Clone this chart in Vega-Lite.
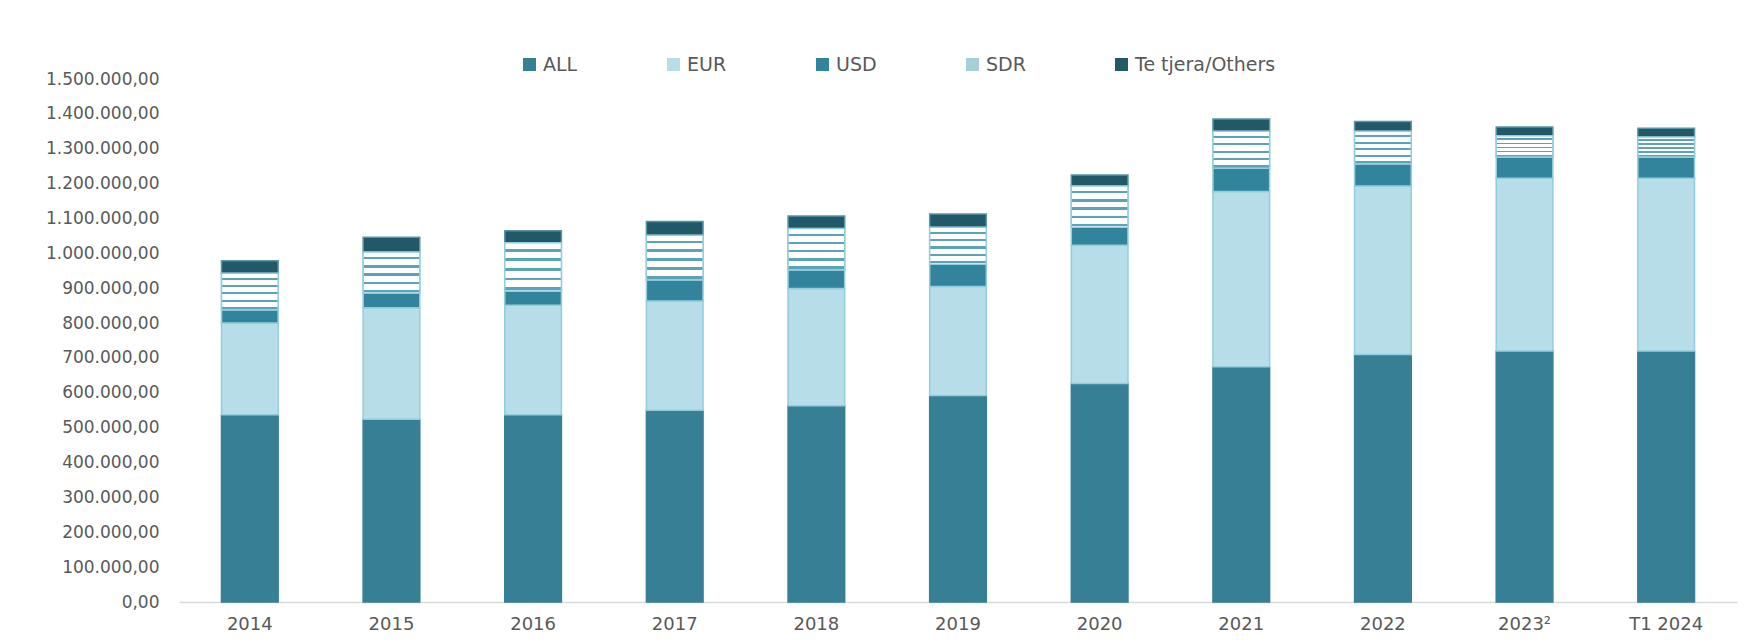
{
  "$schema": "https://vega.github.io/schema/vega-lite/v6.json",
  "width": 1558,
  "height": 523,
  "autosize": {"type": "none"},
  "padding": {"left": 179, "top": 79, "right": 12, "bottom": 40},
  "background": "white",
  "config": {
    "locale": {"number": {"decimal": ",", "thousands": ".", "grouping": [3], "currency": ["", ""]}},
    "view": {"stroke": null},
    "font": "DejaVu Sans"
  },
  "data": {
    "values": [
      {"year": "2014", "currency": "ALL", "value": 537000},
      {"year": "2014", "currency": "EUR", "value": 263000},
      {"year": "2014", "currency": "USD", "value": 38000},
      {"year": "2014", "currency": "SDR", "value": 105000},
      {"year": "2014", "currency": "Te tjera/Others", "value": 36000},
      {"year": "2015", "currency": "ALL", "value": 524000},
      {"year": "2015", "currency": "EUR", "value": 320000},
      {"year": "2015", "currency": "USD", "value": 42000},
      {"year": "2015", "currency": "SDR", "value": 118000},
      {"year": "2015", "currency": "Te tjera/Others", "value": 42000},
      {"year": "2016", "currency": "ALL", "value": 537000},
      {"year": "2016", "currency": "EUR", "value": 314000},
      {"year": "2016", "currency": "USD", "value": 41000},
      {"year": "2016", "currency": "SDR", "value": 138000},
      {"year": "2016", "currency": "Te tjera/Others", "value": 35000},
      {"year": "2017", "currency": "ALL", "value": 550000},
      {"year": "2017", "currency": "EUR", "value": 313000},
      {"year": "2017", "currency": "USD", "value": 61000},
      {"year": "2017", "currency": "SDR", "value": 128000},
      {"year": "2017", "currency": "Te tjera/Others", "value": 39000},
      {"year": "2018", "currency": "ALL", "value": 563000},
      {"year": "2018", "currency": "EUR", "value": 336000},
      {"year": "2018", "currency": "USD", "value": 54000},
      {"year": "2018", "currency": "SDR", "value": 118000},
      {"year": "2018", "currency": "Te tjera/Others", "value": 36000},
      {"year": "2019", "currency": "ALL", "value": 592000},
      {"year": "2019", "currency": "EUR", "value": 313000},
      {"year": "2019", "currency": "USD", "value": 64000},
      {"year": "2019", "currency": "SDR", "value": 106000},
      {"year": "2019", "currency": "Te tjera/Others", "value": 38000},
      {"year": "2020", "currency": "ALL", "value": 627000},
      {"year": "2020", "currency": "EUR", "value": 396000},
      {"year": "2020", "currency": "USD", "value": 52000},
      {"year": "2020", "currency": "SDR", "value": 118000},
      {"year": "2020", "currency": "Te tjera/Others", "value": 32000},
      {"year": "2021", "currency": "ALL", "value": 675000},
      {"year": "2021", "currency": "EUR", "value": 502000},
      {"year": "2021", "currency": "USD", "value": 67000},
      {"year": "2021", "currency": "SDR", "value": 106000},
      {"year": "2021", "currency": "Te tjera/Others", "value": 35000},
      {"year": "2022", "currency": "ALL", "value": 710000},
      {"year": "2022", "currency": "EUR", "value": 483000},
      {"year": "2022", "currency": "USD", "value": 64000},
      {"year": "2022", "currency": "SDR", "value": 93000},
      {"year": "2022", "currency": "Te tjera/Others", "value": 28000},
      {"year": "2023²", "currency": "ALL", "value": 720000},
      {"year": "2023²", "currency": "EUR", "value": 495000},
      {"year": "2023²", "currency": "USD", "value": 61000},
      {"year": "2023²", "currency": "SDR", "value": 61000},
      {"year": "2023²", "currency": "Te tjera/Others", "value": 25000},
      {"year": "T1 2024", "currency": "ALL", "value": 720000},
      {"year": "T1 2024", "currency": "EUR", "value": 495000},
      {"year": "T1 2024", "currency": "USD", "value": 61000},
      {"year": "T1 2024", "currency": "SDR", "value": 58000},
      {"year": "T1 2024", "currency": "Te tjera/Others", "value": 25000}
    ]
  },
  "transform": [
    {"calculate": "indexof(['ALL','EUR','USD','SDR','Te tjera/Others'], datum.currency)", "as": "k"}
  ],
  "encoding": {
    "x": {
      "field": "year", "type": "nominal",
      "sort": ["2014","2015","2016","2017","2018","2019","2020","2021","2022","2023²","T1 2024"],
      "scale": {"paddingInner": 0.6, "paddingOuter": 0.3},
      "axis": {"title": null, "labelAngle": 0, "labelFont": "DejaVu Sans", "labelFontSize": 18, "labelColor": "#595959", "ticks": false, "domainColor": "#D9D9D9", "domainWidth": 1.5, "labelPadding": 13}
    },
    "y": {
      "field": "value", "type": "quantitative", "stack": "zero",
      "scale": {"domain": [0, 1500000], "nice": false},
      "axis": {"title": null, "values": [0,100000,200000,300000,400000,500000,600000,700000,800000,900000,1000000,1100000,1200000,1300000,1400000,1500000], "format": ",.2f", "grid": false, "domain": false, "ticks": false, "labelPadding": 20, "labelFont": "DejaVu Sans", "labelFontSize": 17, "labelColor": "#595959"}
    },
    "order": {"field": "k", "type": "quantitative"}
  },
  "layer": [
    {
      "mark": {"type": "bar", "strokeWidth": 1.5},
      "encoding": {
        "color": {
          "field": "currency", "type": "nominal",
          "scale": {
            "domain": ["ALL","EUR","USD","SDR","Te tjera/Others"],
            "range": ["#367F95", "#B6DDE8", "#31849B", "#A6CFDB", "#215968"]
          },
          "legend": {
            "orient": "none", "legendX": 341, "legendY": -24, "direction": "horizontal", "columns": 5,
            "title": null, "symbolType": "square", "symbolSize": 169, "symbolStrokeWidth": 0,
            "labelFont": "DejaVu Sans", "labelFontSize": 19, "labelColor": "#595959",
            "columnPadding": 86, "gridAlign": "none", "labelOffset": 4, "padding": 0
          }
        },
        "stroke": {
          "field": "currency", "type": "nominal",
          "scale": {"domain": ["ALL","EUR","USD","SDR","Te tjera/Others"], "range": ["#367F95","#93CDDD","#93CDDD","#93CDDD","#5A95A5"]},
          "legend": null
        }
      }
    },
    {
      "mark": {
        "type": "bar", "strokeWidth": 1.5, "stroke": "#93CDDD",
        "fill": {"gradient": "linear", "x1": 0, "y1": 0, "x2": 0, "y2": 1, "stops": [
          {"offset": 0, "color": "#FFFFFF"}, {"offset": 0.12, "color": "#FFFFFF"},
          {"offset": 0.12, "color": "#5CA3B7"}, {"offset": 0.18, "color": "#5CA3B7"},
          {"offset": 0.18, "color": "#FFFFFF"}, {"offset": 0.32, "color": "#FFFFFF"},
          {"offset": 0.32, "color": "#5CA3B7"}, {"offset": 0.38, "color": "#5CA3B7"},
          {"offset": 0.38, "color": "#FFFFFF"}, {"offset": 0.52, "color": "#FFFFFF"},
          {"offset": 0.52, "color": "#5CA3B7"}, {"offset": 0.58, "color": "#5CA3B7"},
          {"offset": 0.58, "color": "#FFFFFF"}, {"offset": 0.72, "color": "#FFFFFF"},
          {"offset": 0.72, "color": "#5CA3B7"}, {"offset": 0.78, "color": "#5CA3B7"},
          {"offset": 0.78, "color": "#FFFFFF"}, {"offset": 0.92, "color": "#FFFFFF"},
          {"offset": 0.92, "color": "#5CA3B7"}, {"offset": 0.98, "color": "#5CA3B7"},
          {"offset": 0.98, "color": "#FFFFFF"}, {"offset": 1, "color": "#FFFFFF"}
        ]}
      },
      "encoding": {
        "opacity": {"condition": {"test": "datum.currency === 'SDR'", "value": 1}, "value": 0}
      }
    }
  ]
}
